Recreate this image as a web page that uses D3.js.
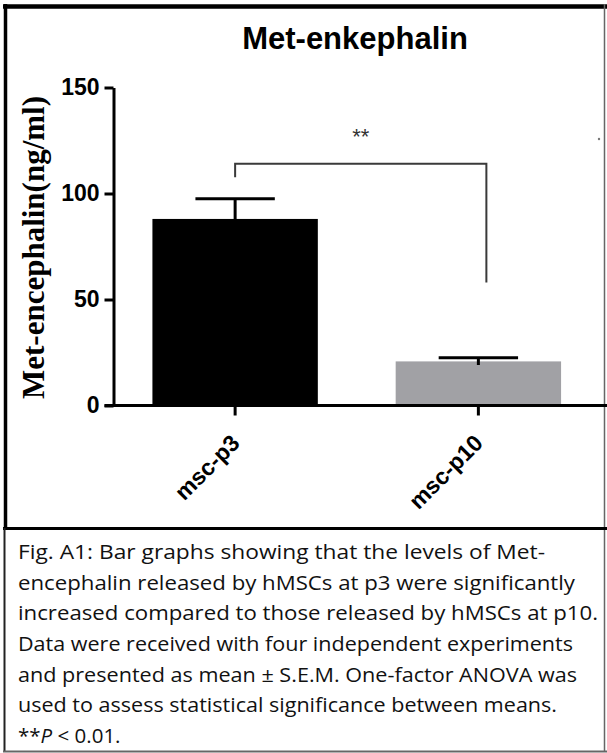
<!DOCTYPE html>
<html>
<head>
<meta charset="utf-8">
<script src="https://cdn.jsdelivr.net/npm/d3@7"></script>
<style>
  html, body { margin: 0; padding: 0; background: #fff; }
  svg { display: block; }
  .tick-label { font-family: "Liberation Sans", Arial, sans-serif; font-weight: bold; }
</style>
</head>
<body>
<svg id="chart"></svg>
<script>
// data
const categories = ['msc-p3', 'msc-p10'];
const means = [88, 20.8];
const sems = [9.5, 1.7];
const barColors = ['#000000', '#a1a1a5'];
const yTicks = [0, 50, 100, 150];
const sigLabel = '**';
const sigBracket = [114, 107.7, 58]; // bar level, left leg end, right leg end
const captionLines = [
    'Fig. A1: Bar graphs showing that the levels of Met-',
    'encephalin  released  by hMSCs at p3 were significantly',
    'increased  compared to those released  by hMSCs at p10.',
    'Data were received  with four independent  experiments',
    'and presented  as mean \u00b1 S.E.M. One-factor ANOVA was',
    'used to assess statistical significance  between  means.'
];

const W = 607, H = 753;
const margin = {top: 87.5, left: 113.5, right: 7, bottom: 347.5};
const plotBottom = H - margin.bottom;

const svg = d3.select('#chart').attr('width', W).attr('height', H);

const xScale = d3.scaleBand()
    .domain(categories)
    .range([margin.left, W - margin.right])
    .paddingInner(0.32)
    .paddingOuter(0.16);
const yScale = d3.scaleLinear()
    .domain([0, 150])
    .range([plotBottom, margin.top]);

// outer frames (chart box + caption box)
const frame = svg.append('g');
frame.append('line').attr('x1', 3).attr('x2', W).attr('y1', 6.5).attr('y2', 6.5)
    .attr('stroke', '#000').attr('stroke-width', 4.5);
frame.append('line').attr('x1', 5.5).attr('x2', 5.5).attr('y1', 4).attr('y2', 529)
    .attr('stroke', '#000').attr('stroke-width', 3.5);
frame.append('line').attr('x1', 604.5).attr('x2', 604.5).attr('y1', 4).attr('y2', 752)
    .attr('stroke', '#666').attr('stroke-width', 1.5);
frame.append('line').attr('x1', 3).attr('x2', W).attr('y1', 528.5).attr('y2', 528.5)
    .attr('stroke', '#000').attr('stroke-width', 3);
frame.append('line').attr('x1', 4.5).attr('x2', 4.5).attr('y1', 528).attr('y2', 752)
    .attr('stroke', '#222').attr('stroke-width', 2);
frame.append('line').attr('x1', 3).attr('x2', W).attr('y1', 751.5).attr('y2', 751.5)
    .attr('stroke', '#666').attr('stroke-width', 2);

// title
svg.append('text')
    .attr('x', 355).attr('y', 49)
    .attr('text-anchor', 'middle')
    .attr('font-family', '"Liberation Sans", Arial, sans-serif')
    .attr('font-weight', 'bold')
    .attr('font-size', 31)
    .text('Met-enkephalin');

// y axis title
svg.append('text')
    .attr('transform', `translate(44,${(margin.top + plotBottom) / 2 + 1}) rotate(-90)`)
    .attr('text-anchor', 'middle')
    .attr('font-family', '"Liberation Serif", "Times New Roman", serif')
    .attr('font-weight', 'bold')
    .attr('font-size', 31)
    .text('Met-encephalin(ng/ml)');

// bars
svg.selectAll('.bar')
    .data(categories)
    .join('rect')
    .attr('class', 'bar')
    .attr('x', d => xScale(d))
    .attr('width', xScale.bandwidth())
    .attr('y', (d, i) => yScale(means[i]))
    .attr('height', (d, i) => plotBottom - yScale(means[i]))
    .attr('fill', (d, i) => barColors[i]);

// error bars (SEM)
const capW = xScale.bandwidth() * 0.48;
const err = svg.selectAll('.err').data(categories).join('g').attr('class', 'err')
    .attr('stroke', '#000').attr('stroke-width', 3);
err.append('line')
    .attr('x1', d => xScale(d) + xScale.bandwidth() / 2)
    .attr('x2', d => xScale(d) + xScale.bandwidth() / 2)
    .attr('y1', (d, i) => yScale(means[i] - sems[i]))
    .attr('y2', (d, i) => yScale(means[i] + sems[i]));
err.append('line')
    .attr('x1', d => xScale(d) + xScale.bandwidth() / 2 - capW / 2)
    .attr('x2', d => xScale(d) + xScale.bandwidth() / 2 + capW / 2)
    .attr('y1', (d, i) => yScale(means[i] + sems[i]))
    .attr('y2', (d, i) => yScale(means[i] + sems[i]));

// y axis
const yAxisG = svg.append('g')
    .attr('transform', `translate(${margin.left},0)`)
    .call(d3.axisLeft(yScale).tickValues(yTicks).tickSize(9).tickPadding(5).tickSizeOuter(0));
yAxisG.select('.domain').attr('stroke-width', 3);
yAxisG.selectAll('.tick line').attr('stroke-width', 3);
yAxisG.selectAll('.tick text')
    .attr('class', 'tick-label')
    .attr('font-size', 23)
    .attr('fill', '#000');

// x axis
const xAxisG = svg.append('g')
    .attr('transform', `translate(0,${plotBottom})`)
    .call(d3.axisBottom(xScale).tickSize(10).tickSizeOuter(0));
xAxisG.select('.domain').remove();
xAxisG.append('line')
    .attr('x1', margin.left - 9).attr('x2', W)
    .attr('stroke', '#000').attr('stroke-width', 3);
xAxisG.selectAll('.tick line').attr('stroke-width', 3);
xAxisG.selectAll('.tick text')
    .attr('class', 'tick-label')
    .attr('font-size', 23)
    .attr('fill', '#000')
    .attr('text-anchor', 'end')
    .attr('y', 0).attr('dy', 0)
    .attr('transform', 'translate(6,39) rotate(-45)');

// significance bracket
const cx = d => xScale(d) + xScale.bandwidth() / 2;
const bx0 = cx(categories[0]), bx1 = cx(categories[1]) + 8;
svg.append('path')
    .attr('d', d3.line()([
        [bx0, yScale(sigBracket[1])],
        [bx0, yScale(sigBracket[0])],
        [bx1, yScale(sigBracket[0])],
        [bx1, yScale(sigBracket[2])]
    ]))
    .attr('fill', 'none')
    .attr('stroke', '#3a3a3a')
    .attr('stroke-width', 2);
svg.append('text')
    .attr('x', (bx0 + bx1) / 2).attr('y', yScale(sigBracket[0]) - 20)
    .attr('text-anchor', 'middle')
    .attr('font-family', '"Liberation Sans", Arial, sans-serif')
    .attr('font-size', 22)
    .attr('fill', '#333')
    .text(sigLabel);
// stray speck in the original
svg.append('circle').attr('cx', 599).attr('cy', 139).attr('r', 1.2).attr('fill', '#777');

// caption
const capTargets = [527, 557, 580, 555, 559, 539];
const cap = svg.append('g')
    .attr('font-family', '"Open Sans", "Noto Sans", sans-serif')
    .attr('font-size', 20.5)
    .attr('fill', '#111');
captionLines.forEach((line, i) => {
    cap.append('text')
        .attr('x', 18).attr('y', 559 + i * 30.67)
        .attr('textLength', capTargets[i])
        .attr('lengthAdjust', 'spacingAndGlyphs')
        .text(line);
});
const last = cap.append('text').attr('x', 18).attr('y', 559 + 6 * 30.67);
last.append('tspan').text('**');
last.append('tspan').attr('font-style', 'italic').text('P');
last.append('tspan').text(' < 0.01.');
</script>
</body>
</html>
